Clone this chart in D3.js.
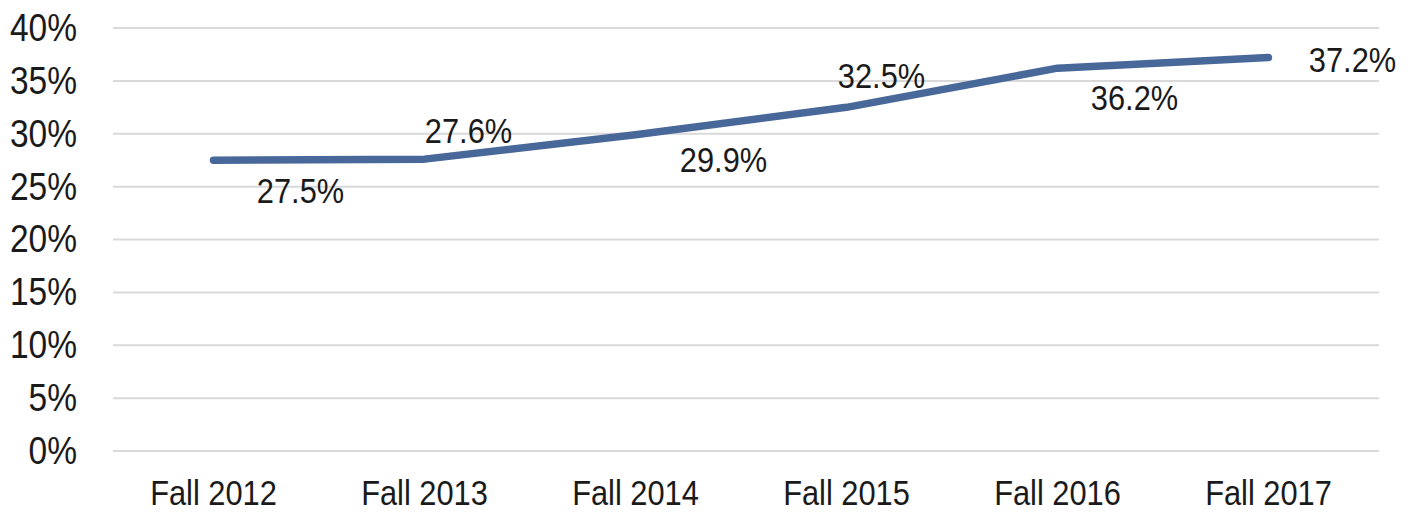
<!DOCTYPE html>
<html>
<head>
<meta charset="utf-8">
<script src="https://cdn.jsdelivr.net/npm/d3@7"></script>
<style>
    body { margin: 0; background: #fff; }
    svg text { font-family: "Liberation Sans", Arial, sans-serif; fill: #1a1a1a; }
</style>
</head>
<body>
<div id="chart"></div>
<script>
// Data
const categories = ['Fall 2012', 'Fall 2013', 'Fall 2014', 'Fall 2015', 'Fall 2016', 'Fall 2017'];
const values = [27.5, 27.6, 29.9, 32.5, 36.2, 37.2];
const yTicks = [0, 5, 10, 15, 20, 25, 30, 35, 40];

// label offsets from each point (px), Excel-ish placement
const labelOffsets = [[87, 30], [44, -29], [88, 25], [35, -32], [77, 29], [84, 2]];

const width = 1413;
const height = 514;
const narrow = 'scale(0.86,1)'; // fake a condensed face

const svg = d3.select('#chart').append('svg')
    .attr('width', width)
    .attr('height', height);

const xScale = d3.scaleBand()
    .domain(categories)
    .range([108, 1374]);

const yScale = d3.scaleLinear()
    .domain([0, 40])
    .range([451, 28]);

const gridLeft = 113;
const gridRight = 1379;

// Gridlines
svg.append('g')
    .selectAll('line')
    .data(yTicks)
    .enter()
    .append('line')
    .attr('x1', gridLeft)
    .attr('x2', gridRight)
    .attr('y1', d => yScale(d))
    .attr('y2', d => yScale(d))
    .attr('stroke', '#d9d9d9')
    .attr('stroke-width', 2);

// Y axis labels
const yAxis = d3.axisLeft(yScale)
    .tickValues(yTicks)
    .tickFormat(d => d + '%')
    .tickSize(0)
    .tickPadding(0);

svg.append('g')
    .attr('transform', 'translate(77,0)')
    .call(yAxis)
    .attr('font-family', null)
    .call(g => g.select('.domain').remove())
    .selectAll('text')
    .style('font-size', '39px')
    .attr('transform', narrow);

// X axis labels
const xAxis = d3.axisBottom(xScale)
    .tickSize(0)
    .tickPadding(0);

svg.append('g')
    .attr('transform', 'translate(0,480)')
    .call(xAxis)
    .attr('font-family', null)
    .call(g => g.select('.domain').remove())
    .selectAll('text')
    .style('font-size', '35px')
    .attr('transform', 'scale(0.88,1)');

svg.selectAll('.tick text').attr('fill', null);

const cx = d => xScale(d) + xScale.bandwidth() / 2;

// Line
const line = d3.line()
    .x((d, i) => cx(categories[i]))
    .y(d => yScale(d));

svg.append('path')
    .datum(values)
    .attr('d', line)
    .attr('fill', 'none')
    .attr('stroke', '#48689a')
    .attr('stroke-width', 7.5)
    .attr('stroke-linecap', 'round')
    .attr('stroke-linejoin', 'round');

// Data labels
svg.append('g')
    .selectAll('g')
    .data(values)
    .enter()
    .append('g')
    .attr('transform', (d, i) => `translate(${cx(categories[i]) + labelOffsets[i][0]},${yScale(d) + labelOffsets[i][1]})`)
    .append('text')
    .attr('transform', 'scale(0.88,1)')
    .attr('text-anchor', 'middle')
    .attr('dy', '0.36em')
    .style('font-size', '35px')
    .text(d => d.toFixed(1) + '%');
</script>
</body>
</html>
